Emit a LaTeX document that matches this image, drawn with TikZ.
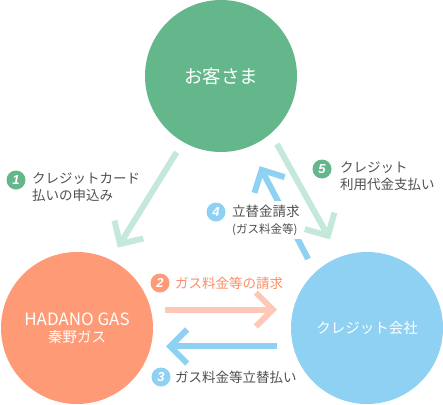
\documentclass[tikz,border=0pt]{standalone}
\usepackage{fontspec}
\setmainfont{Noto Sans CJK JP}
\newfontfamily\numfont{Liberation Sans}
\usetikzlibrary{arrows.meta}

\definecolor{custgreen}{HTML}{64B78B}
\definecolor{gassalmon}{HTML}{FF9A76}
\definecolor{cardblue}{HTML}{8ED1F3}
\definecolor{greenflow}{HTML}{C4E8DA}
\definecolor{salmonflow}{HTML}{FFC8B6}
\definecolor{salmontext}{HTML}{FF8C66}
\definecolor{textgray}{HTML}{505050}

\begin{document}
\begin{tikzpicture}
  [
    x=1pt, y=-1pt,
    party/.style =
      {circle, minimum size=152pt, inner sep=0pt, text=white, align=center},
    badge/.style =
      {circle, minimum size=19pt, inner sep=0pt, text=white,
       font=\numfont\bfseries\itshape\fontsize{13}{13}\selectfont},
    note/.style =
      {anchor=west, align=left, inner sep=0pt, text=textgray,
       font=\fontsize{13.5}{17}\selectfont},
    flow/.style =
      {line width=6pt, -{Straight Barb[length=17pt,width=34pt]}}
  ]
  \useasboundingbox (0,0) rectangle (443,404);

  \node [party, fill=custgreen, font=\fontsize{18.5}{20}\selectfont] at (221, 76) (cust) {お客さま};
  \node [party, fill=gassalmon, font=\fontsize{17}{19}\selectfont] at ( 77,328) (gas)
    {HADANO GAS\\[-2pt]{\fontsize{14.5}{16}\selectfont 秦野ガス}};
  \node [party, fill=cardblue, font=\fontsize{14.5}{16}\selectfont] at (367,328) (card) {クレジット会社};

  \draw[flow, draw=greenflow,  shorten <=12pt, shorten >=14pt] (cust.240)  -- (gas.64);
  \draw[flow, draw=greenflow,  shorten <=12pt, shorten >=20pt] (cust.311)  -- (card.111);
  \draw[flow, draw=cardblue,   shorten <=15pt, shorten >=22pt] (card.133)  -- (cust.292);
  \draw[flow, draw=salmonflow, shorten <=14pt, shorten >=16pt] (gas.14)    -- (card.166);
  \draw[flow, draw=cardblue,   shorten <=16pt, shorten >=15pt] (card.194)  -- (gas.-14);

  \node [badge, fill=custgreen] at ( 16,180) (n1) {1};
  \node [note] at ( 32,187) (l1) {クレジットカード\\払いの申込み};
  \node [badge, fill=gassalmon] at (160,283) (n2) {2};
  \node [note, text=salmontext] at (175,283) (l2) {ガス料金等の請求};
  \node [badge, fill=cardblue]  at (161,377) (n3) {3};
  \node [note] at (175,377) (l3) {ガス料金等立替払い};
  \node [note, fill=white, inner sep=4pt] at (228,220) (l4)
    {立替金請求\\{\fontsize{11.5}{14}\selectfont (ガス料金等)}};
  \node [badge, fill=cardblue]  at (216,212) (n4) {4};
  \node [badge, fill=custgreen] at (322,169) (n5) {5};
  \node [note] at (340,176) (l5) {クレジット\\利用代金支払い};
\end{tikzpicture}
\end{document}
